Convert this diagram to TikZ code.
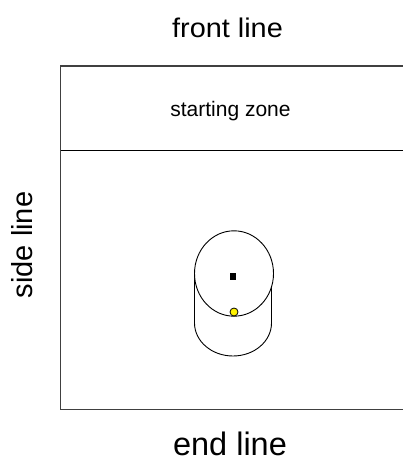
\documentclass[tikz,border=0pt]{standalone}
\usepackage{fontspec}
\setmainfont{Liberation Sans}
\tikzset{
  line/.style={draw=black!75,line width=1.1pt},
  thin line/.style={draw=black,line width=0.9pt},
  lab/.style={inner sep=0pt,anchor=base,font=\fontsize{29}{32}\selectfont},
  front lab/.style={inner sep=0pt,anchor=base,xscale=1.07,font=\fontsize{27}{30}\selectfont},
  big lab/.style={inner sep=0pt,anchor=base,font=\fontsize{32.5}{36}\selectfont},
  small lab/.style={inner sep=0pt,anchor=base,font=\fontsize{21}{24}\selectfont}
}
\begin{document}
\begin{tikzpicture}[x=1pt,y=-1pt]
\useasboundingbox (0,0) rectangle (403,457);
\clip (0,0) rectangle (403,457);
\fill[white] (0,0) rectangle (403,457);
\draw[line] (60.5,66) rectangle (410,409.7);
\draw[thin line] (60.5,150.8) -- (403,150.8);
\node[front lab] (front) at (227.5,37.5) {front line};
\node[big lab] (end) at (230,455.5) {end line};
\node[lab,rotate=90] (side) at (32,245) {side line};
\node[small lab] (zone) at (230.5,117) {starting zone};
\draw[thin line] (194.5,273) -- (194.5,323) arc[start angle=180,end angle=0,x radius=38.5,y radius=33] -- (271.5,273);
\draw[thin line,fill=white] (234,273.5) ellipse[x radius=39.5,y radius=42.7];
\node[draw=black,line width=0.8pt,fill=yellow,circle,minimum size=8pt,inner sep=0pt] (dot) at (234,312) {};
\node[fill=black,minimum width=6pt,minimum height=7pt,inner sep=0pt] (sq) at (233,276) {};
\end{tikzpicture}
\end{document}
